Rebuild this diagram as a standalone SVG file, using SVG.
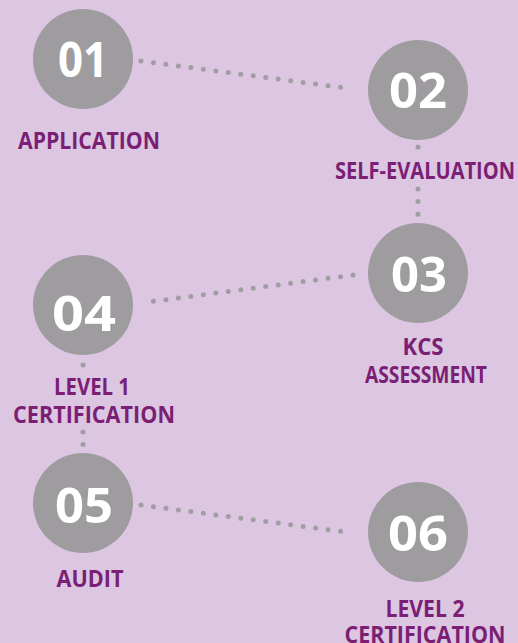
<svg xmlns="http://www.w3.org/2000/svg" width="518" height="643" viewBox="0 0 518 643">
  <style>
    .bg { fill: #dcc6e2; }
    .circ { fill: #9e9c9f; }
    .num { fill: #ffffff; font-family: "Open Sans", "DejaVu Sans", sans-serif; font-weight: 700; font-size: 49px; text-anchor: middle; }
    .lbl { fill: #7b1f74; font-family: "Open Sans", "DejaVu Sans", sans-serif; font-weight: 700; font-size: 23px; text-anchor: middle; }
    .dots { stroke: #a09ea2; stroke-width: 5; stroke-linecap: round; fill: none; stroke-dasharray: 0 12.58; }
  </style>
  <rect class="bg" x="0" y="0" width="518" height="643"/>
  <g id="connectors">
    <line class="dots" x1="141" y1="61" x2="353" y2="89"/>
    <line class="dots" x1="418" y1="147" x2="418" y2="147.1"/>
    <line class="dots" x1="418" y1="189" x2="418" y2="214.2"/>
    <line class="dots" x1="353" y1="275" x2="141" y2="303"/>
    <line class="dots" x1="83" y1="365" x2="83" y2="365.1"/>
    <line class="dots" x1="83" y1="432" x2="83" y2="444.6"/>
    <line class="dots" x1="141" y1="505" x2="353" y2="533"/>
  </g>
  <g id="node-01">
    <circle class="circ" cx="83" cy="59" r="50"/>
    <text class="num" x="83" y="77" textLength="50" lengthAdjust="spacingAndGlyphs">01</text>
    <text class="lbl" x="89" y="149" textLength="142" lengthAdjust="spacingAndGlyphs">APPLICATION</text>
  </g>
  <g id="node-02">
    <circle class="circ" cx="418" cy="90" r="50"/>
    <text class="num" x="418" y="108" textLength="58" lengthAdjust="spacingAndGlyphs">02</text>
    <text class="lbl" x="425" y="179" textLength="180" lengthAdjust="spacingAndGlyphs">SELF-EVALUATION</text>
  </g>
  <g id="node-03">
    <circle class="circ" cx="418" cy="273" r="50"/>
    <text class="num" x="419" y="292" textLength="56" lengthAdjust="spacingAndGlyphs">03</text>
    <text class="lbl" x="423" y="355" textLength="41" lengthAdjust="spacingAndGlyphs">KCS</text>
    <text class="lbl" x="426" y="383" textLength="122" lengthAdjust="spacingAndGlyphs">ASSESSMENT</text>
  </g>
  <g id="node-04">
    <circle class="circ" cx="83" cy="305" r="50"/>
    <text class="num" x="84" y="331" textLength="64" lengthAdjust="spacingAndGlyphs">04</text>
    <text class="lbl" x="92" y="395" textLength="76" lengthAdjust="spacingAndGlyphs">LEVEL 1</text>
    <text class="lbl" x="94" y="423" textLength="162" lengthAdjust="spacingAndGlyphs">CERTIFICATION</text>
  </g>
  <g id="node-05">
    <circle class="circ" cx="83" cy="503" r="50"/>
    <text class="num" x="84" y="523" textLength="58" lengthAdjust="spacingAndGlyphs">05</text>
    <text class="lbl" x="90" y="587" textLength="67" lengthAdjust="spacingAndGlyphs">AUDIT</text>
  </g>
  <g id="node-06">
    <circle class="circ" cx="418" cy="532" r="50"/>
    <text class="num" x="418" y="551" textLength="60" lengthAdjust="spacingAndGlyphs">06</text>
    <text class="lbl" x="425" y="617" textLength="79" lengthAdjust="spacingAndGlyphs">LEVEL 2</text>
    <text class="lbl" x="425" y="643" textLength="161" lengthAdjust="spacingAndGlyphs">CERTIFICATION</text>
  </g>
</svg>
